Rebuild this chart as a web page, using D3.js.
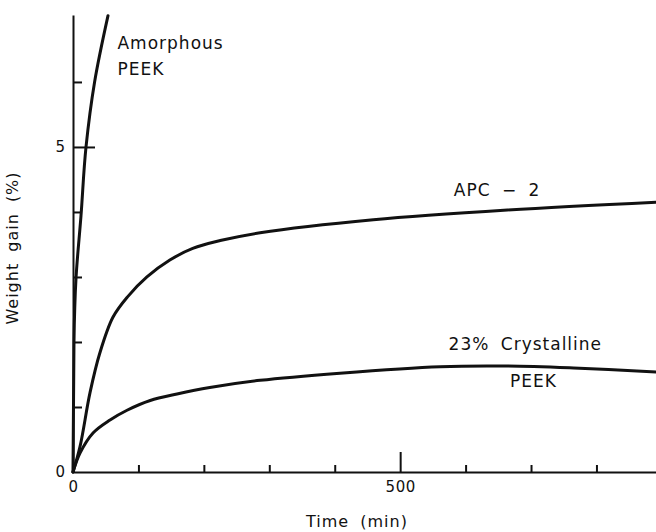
<!DOCTYPE html>
<html>
<head>
<meta charset="utf-8">
<script src="https://cdn.jsdelivr.net/npm/d3@7"></script>
<style>
  html, body { margin: 0; padding: 0; background: #fff; }
  svg text { font-family: "DejaVu Sans", sans-serif; fill: #111; }
</style>
</head>
<body>
<svg id="chart" width="656" height="532"></svg>
<script>
// Weight gain (%) versus immersion time (min)
const amorphousTime = [0, 1.5, 4.6, 12.2, 19.9, 33, 53.5];
const amorphousGain = [0, 2.0, 2.98, 3.94, 5.0, 6.0, 7.02];

const apcTime = [0, 10.7, 26, 41, 61, 83, 113, 148, 183, 225, 286, 459, 664, 891];
const apcGain = [0, 0.39, 1.22, 1.83, 2.38, 2.69, 3.0, 3.26, 3.44, 3.56, 3.68, 3.88, 4.03, 4.15];

const crystTime = [0, 10.7, 30.6, 56.6, 82.6, 118, 159, 209, 286, 408, 561, 664, 765, 891];
const crystGain = [0, 0.29, 0.6, 0.8, 0.95, 1.1, 1.2, 1.3, 1.41, 1.52, 1.62, 1.63, 1.6, 1.54];

const xTicks = [0, 100, 200, 300, 400, 500, 600, 700, 800];
const xTickLabels = { 0: "0", 500: "500" };
const yTicks = [0, 1, 2, 3, 4, 5, 6];
const yTickLabels = { 0: "0", 5: "5" };

const svg = d3.select("#chart");

const x = d3.scaleLinear().domain([0, 891]).range([73, 656]);
const y = d3.scaleLinear().domain([0, 7.03]).range([472, 15]);

// x axis: ticks point up into the plot, the 500 mark is longer
const gx = svg.append("g")
  .attr("transform", `translate(0,${y(0)})`)
  .call(d3.axisBottom(x).tickValues(xTicks).tickSizeInner(-7).tickSizeOuter(0)
    .tickPadding(9).tickFormat(d => xTickLabels[d] || ""));
gx.select(".domain").attr("stroke", "#111").attr("stroke-width", 2);
gx.selectAll(".tick line").attr("stroke", "#111").attr("stroke-width", 2)
  .attr("y2", d => d === 500 ? -20 : (d === 0 ? 0 : -7));
gx.selectAll(".tick text").attr("font-size", 15).attr("font-family", "DejaVu Sans")
  .attr("letter-spacing", 0.5);

// y axis: ticks point right into the plot, the 5 mark is longer
const gy = svg.append("g")
  .attr("transform", `translate(${x(0)},0)`)
  .call(d3.axisLeft(y).tickValues(yTicks).tickSizeInner(-9).tickSizeOuter(0)
    .tickPadding(8).tickFormat(d => yTickLabels[d] || ""));
gy.select(".domain").attr("stroke", "#111").attr("stroke-width", 2);
gy.selectAll(".tick line").attr("stroke", "#111").attr("stroke-width", 2)
  .attr("x2", d => d === 5 ? 22 : (d === 0 ? 0 : 9));
gy.selectAll(".tick text").attr("font-size", 15).attr("font-family", "DejaVu Sans");

// curves: the steep amorphous curve is interpolated along y, the others along x
const lineX = d3.line()
  .x(d => x(d[0]))
  .y(d => y(d[1]))
  .curve(d3.curveCatmullRom.alpha(0.5));
const lineY = d3.line()
  .x(d => x(d[0]))
  .y(d => y(d[1]))
  .curve(d3.curveMonotoneY);

const series = [
  { pts: d3.zip(amorphousTime, amorphousGain), gen: lineY },
  { pts: d3.zip(apcTime, apcGain), gen: lineX },
  { pts: d3.zip(crystTime, crystGain), gen: lineX }
];

svg.append("g").selectAll("path")
  .data(series)
  .join("path")
  .attr("d", d => d.gen(d.pts))
  .attr("fill", "none")
  .attr("stroke", "#111")
  .attr("stroke-width", 3)
  .attr("stroke-linecap", "round")
  .attr("stroke-linejoin", "round");

// curve labels
const labels = [
  { text: "Amorphous", t: 68, g: 6.5 },
  { text: "PEEK", t: 68, g: 6.1 },
  { text: "APC \u2212 2", t: 582, g: 4.24 },
  { text: "23% Crystalline", t: 574, g: 1.88 },
  { text: "PEEK", t: 668, g: 1.3 }
];
svg.append("g").selectAll("text")
  .data(labels)
  .join("text")
  .attr("x", d => x(d.t))
  .attr("y", d => y(d.g))
  .attr("font-size", 17)
  .attr("letter-spacing", 1)
  .attr("word-spacing", 5)
  .text(d => d.text);

// axis titles
svg.append("text")
  .attr("x", 357)
  .attr("y", 527)
  .attr("text-anchor", "middle")
  .attr("font-size", 16)
  .attr("letter-spacing", 1)
  .attr("word-spacing", 5)
  .text("Time (min)");

svg.append("text")
  .attr("transform", "translate(18,248) rotate(-90)")
  .attr("text-anchor", "middle")
  .attr("font-size", 16)
  .attr("letter-spacing", 1)
  .attr("word-spacing", 5)
  .text("Weight gain (%)");
</script>
</body>
</html>
